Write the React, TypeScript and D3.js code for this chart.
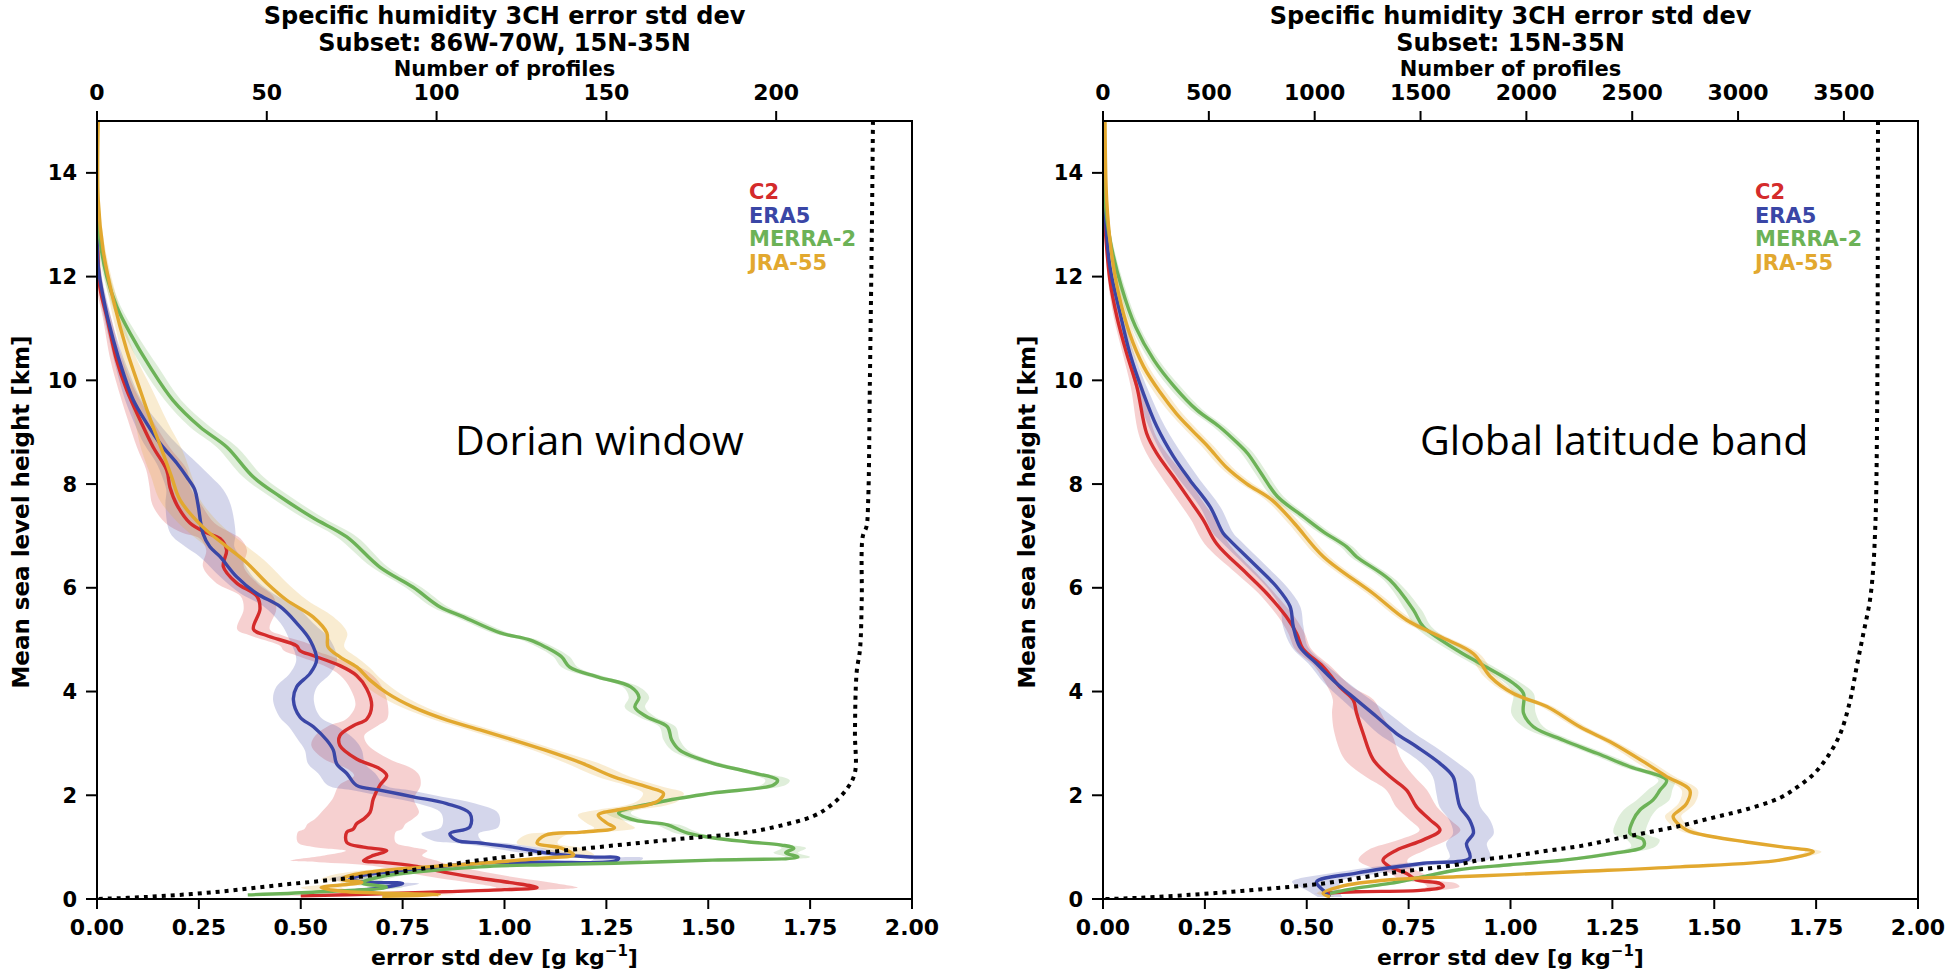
import React from 'react';
import * as d3 from 'd3';

type P = [number, number, number]; // [error std dev, height km, band half-width]
type C = [number, number]; // [number of profiles, height km]

const SERIES_NAMES = ['C2', 'ERA5', 'MERRA-2', 'JRA-55'];
const SERIES_COLORS = ['#d42b2b', '#3a46a6', '#6cb257', '#e2a82f'];

const X_TICKS = [0, 0.25, 0.5, 0.75, 1.0, 1.25, 1.5, 1.75, 2.0];
const Y_TICKS = [0, 2, 4, 6, 8, 10, 12, 14];
const LEFT_COUNT_TICKS = [0, 50, 100, 150, 200];
const RIGHT_COUNT_TICKS = [0, 500, 1000, 1500, 2000, 2500, 3000, 3500];

const TITLE = 'Specific humidity 3CH error std dev';
const LEFT_SUBSET = 'Subset: 86W-70W, 15N-35N';
const RIGHT_SUBSET = 'Subset: 15N-35N';
const LEFT_NOTE = 'Dorian window';
const RIGHT_NOTE = 'Global latitude band';

const LEFT_C2: P[] = [
  [0, 15, 0], [0, 13.5, 0.003], [0.002, 12.5, 0.005], [0.007, 11.8, 0.008], [0.024, 11.22, 0.01],
  [0.048, 10.39, 0.015], [0.073, 9.81, 0.02], [0.106, 9.23, 0.03], [0.138, 8.71, 0.04], [0.171, 8.27, 0.05],
  [0.179, 7.94, 0.05], [0.196, 7.6, 0.06], [0.228, 7.25, 0.06], [0.269, 7.06, 0.06], [0.302, 6.95, 0.05],
  [0.318, 6.73, 0.05], [0.31, 6.41, 0.05], [0.343, 6.09, 0.05], [0.392, 5.84, 0.04], [0.4, 5.59, 0.04],
  [0.384, 5.2, 0.04], [0.416, 5.08, 0.04], [0.49, 4.88, 0.04], [0.498, 4.79, 0.04], [0.531, 4.69, 0.04],
  [0.596, 4.5, 0.04], [0.637, 4.31, 0.04], [0.662, 4.05, 0.04], [0.674, 3.73, 0.04], [0.662, 3.47, 0.05],
  [0.629, 3.34, 0.06], [0.596, 3.15, 0.06], [0.596, 2.96, 0.07], [0.637, 2.7, 0.08], [0.694, 2.51, 0.08],
  [0.711, 2.38, 0.08], [0.694, 2.19, 0.1], [0.678, 1.93, 0.1], [0.67, 1.67, 0.12], [0.654, 1.54, 0.12],
  [0.637, 1.45, 0.12], [0.629, 1.35, 0.12], [0.613, 1.29, 0.12], [0.613, 1.09, 0.12], [0.654, 1.0, 0.12],
  [0.711, 0.93, 0.1], [0.678, 0.84, 0.12], [0.654, 0.74, 0.18], [0.694, 0.71, 0.15], [0.776, 0.64, 0.1],
  [0.858, 0.51, 0.1], [0.94, 0.4, 0.1], [1.02, 0.31, 0.1], [1.08, 0.22, 0.1], [1.0, 0.18, 0.1],
  [0.85, 0.14, 0.08], [0.7, 0.1, 0.08], [0.5, 0.06, 0.05],
];

const LEFT_ERA5: P[] = [
  [0, 15, 0], [0, 13.15, 0.003], [0.003, 12.19, 0.005], [0.02, 11.42, 0.008], [0.04, 10.78, 0.01],
  [0.065, 10.13, 0.015], [0.089, 9.62, 0.02], [0.122, 9.17, 0.03], [0.155, 8.78, 0.04], [0.196, 8.4, 0.05],
  [0.22, 8.14, 0.06], [0.24, 7.89, 0.07], [0.248, 7.6, 0.08], [0.26, 7.05, 0.08], [0.277, 6.79, 0.06],
  [0.302, 6.6, 0.05], [0.343, 6.21, 0.04], [0.392, 5.89, 0.04], [0.449, 5.64, 0.04], [0.49, 5.32, 0.04],
  [0.523, 4.99, 0.05], [0.539, 4.61, 0.05], [0.523, 4.35, 0.05], [0.49, 4.09, 0.05], [0.482, 3.84, 0.05],
  [0.498, 3.51, 0.05], [0.531, 3.32, 0.06], [0.564, 3.06, 0.07], [0.58, 2.87, 0.07], [0.588, 2.61, 0.07],
  [0.613, 2.42, 0.07], [0.637, 2.19, 0.07], [0.694, 2.1, 0.07], [0.776, 1.97, 0.07], [0.858, 1.84, 0.07],
  [0.915, 1.65, 0.07], [0.915, 1.39, 0.07], [0.866, 1.26, 0.07], [0.883, 1.13, 0.06], [0.94, 1.08, 0.06],
  [1.02, 1.0, 0.06], [1.1, 0.89, 0.06], [1.21, 0.81, 0.06], [1.28, 0.79, 0.06], [1.27, 0.73, 0.06],
  [1.1, 0.71, 0.05], [0.94, 0.69, 0.05], [0.75, 0.55, 0.05], [0.65, 0.45, 0.05], [0.62, 0.38, 0.05],
  [0.65, 0.33, 0.04], [0.75, 0.3, 0.04], [0.7, 0.22, 0.04], [0.62, 0.15, 0.04],
];

const LEFT_MERRA2: P[] = [
  [0, 15, 0], [0, 13.48, 0.003], [0.007, 12.72, 0.005], [0.024, 12.0, 0.008], [0.048, 11.43, 0.01],
  [0.081, 10.91, 0.015], [0.13, 10.26, 0.02], [0.186, 9.62, 0.02], [0.253, 9.1, 0.025], [0.319, 8.71, 0.025],
  [0.383, 8.14, 0.025], [0.449, 7.76, 0.025], [0.53, 7.35, 0.025], [0.613, 6.98, 0.025], [0.694, 6.4, 0.02],
  [0.776, 6.01, 0.02], [0.842, 5.63, 0.02], [0.899, 5.44, 0.02], [0.99, 5.13, 0.02], [1.06, 5.0, 0.02],
  [1.1, 4.86, 0.02], [1.14, 4.67, 0.02], [1.16, 4.47, 0.02], [1.23, 4.28, 0.02], [1.31, 4.09, 0.02],
  [1.33, 3.89, 0.025], [1.32, 3.7, 0.025], [1.35, 3.51, 0.02], [1.4, 3.32, 0.02], [1.41, 3.07, 0.02],
  [1.43, 2.87, 0.02], [1.51, 2.62, 0.02], [1.6, 2.45, 0.02], [1.67, 2.29, 0.03], [1.66, 2.2, 0.03],
  [1.51, 2.04, 0.02], [1.38, 1.87, 0.02], [1.28, 1.66, 0.03], [1.32, 1.52, 0.03], [1.4, 1.43, 0.03],
  [1.43, 1.33, 0.03], [1.45, 1.27, 0.03], [1.51, 1.18, 0.02], [1.6, 1.1, 0.02], [1.68, 1.04, 0.02],
  [1.71, 0.98, 0.03], [1.69, 0.89, 0.03], [1.72, 0.81, 0.03], [1.51, 0.75, 0.03], [1.27, 0.69, 0.03],
  [1.1, 0.66, 0.03], [0.94, 0.62, 0.03], [0.69, 0.42, 0.04], [0.65, 0.31, 0.04], [0.71, 0.23, 0.04],
  [0.53, 0.13, 0.03], [0.37, 0.08, 0.02],
];

const LEFT_JRA55: P[] = [
  [0.003, 15, 0], [0.003, 13.48, 0.003], [0.015, 12.51, 0.006], [0.04, 11.55, 0.01], [0.073, 10.58, 0.015],
  [0.106, 9.81, 0.03], [0.134, 9.18, 0.04], [0.159, 8.66, 0.05], [0.183, 8.14, 0.05], [0.204, 7.69, 0.05],
  [0.26, 7.17, 0.05], [0.319, 6.79, 0.05], [0.368, 6.48, 0.05], [0.417, 6.09, 0.05], [0.466, 5.76, 0.05],
  [0.53, 5.44, 0.05], [0.564, 5.13, 0.05], [0.567, 4.86, 0.04], [0.596, 4.67, 0.04], [0.638, 4.47, 0.03],
  [0.67, 4.22, 0.03], [0.712, 3.97, 0.03], [0.776, 3.7, 0.03], [0.859, 3.45, 0.03], [0.94, 3.26, 0.03],
  [1.02, 3.07, 0.03], [1.1, 2.87, 0.03], [1.19, 2.62, 0.04], [1.27, 2.35, 0.04], [1.35, 2.16, 0.04],
  [1.39, 2.04, 0.05], [1.38, 1.91, 0.05], [1.35, 1.81, 0.05], [1.28, 1.72, 0.05], [1.23, 1.62, 0.05],
  [1.25, 1.47, 0.05], [1.27, 1.37, 0.05], [1.19, 1.29, 0.05], [1.1, 1.23, 0.05], [1.08, 1.08, 0.05],
  [1.14, 0.98, 0.05], [1.17, 0.85, 0.05], [1.1, 0.79, 0.05], [0.94, 0.69, 0.05], [0.7, 0.55, 0.05],
  [0.62, 0.45, 0.05], [0.6, 0.38, 0.05], [0.65, 0.32, 0.05], [0.55, 0.22, 0.05], [0.6, 0.15, 0.05],
  [0.84, 0.08, 0.04], [0.7, 0.05, 0.03],
];

const LEFT_COUNTS: C[] = [
  [228.5, 15], [228.2, 13], [227.6, 10], [227.1, 7.69], [226.6, 7.18], [225.5, 6.99], [225.2, 5.78],
  [224.7, 4.82], [223.7, 4.37], [223.2, 3.21], [223.2, 2.44], [220.8, 2.12], [215.8, 1.79], [211, 1.6],
  [201, 1.41], [191, 1.28], [171.7, 1.16], [152, 1.03], [132.4, 0.9], [112.8, 0.75], [93, 0.56],
  [73.6, 0.4], [53.9, 0.27], [34.2, 0.13], [14.7, 0.04], [0, 0],
];

const RIGHT_C2: P[] = [
  [0, 15, 0], [0, 13.5, 0.002], [0.005, 12.96, 0.003], [0.017, 11.93, 0.005], [0.034, 11.23, 0.008],
  [0.058, 10.52, 0.01], [0.083, 9.88, 0.015], [0.107, 8.98, 0.02], [0.132, 8.59, 0.025], [0.173, 8.14, 0.03],
  [0.213, 7.69, 0.03], [0.246, 7.31, 0.03], [0.279, 6.85, 0.03], [0.352, 6.28, 0.025], [0.401, 5.9, 0.02],
  [0.45, 5.44, 0.02], [0.475, 5.12, 0.02], [0.491, 4.82, 0.02], [0.54, 4.48, 0.02], [0.581, 4.09, 0.03],
  [0.614, 3.84, 0.05], [0.622, 3.59, 0.06], [0.638, 3.2, 0.07], [0.663, 2.69, 0.07], [0.704, 2.36, 0.06],
  [0.745, 2.1, 0.05], [0.769, 1.78, 0.05], [0.802, 1.53, 0.05], [0.827, 1.33, 0.05], [0.786, 1.14, 0.06],
  [0.72, 0.94, 0.07], [0.687, 0.75, 0.06], [0.704, 0.62, 0.05], [0.745, 0.49, 0.04], [0.769, 0.37, 0.04],
  [0.827, 0.3, 0.04], [0.835, 0.24, 0.04], [0.786, 0.17, 0.04], [0.622, 0.14, 0.03], [0.54, 0.11, 0.03],
];

const RIGHT_ERA5: P[] = [
  [0, 15, 0], [0, 13.8, 0.002], [0.005, 13.22, 0.003], [0.017, 12.19, 0.005], [0.042, 11.29, 0.008],
  [0.066, 10.52, 0.01], [0.099, 9.75, 0.015], [0.132, 9.11, 0.02], [0.173, 8.53, 0.025], [0.213, 8.08, 0.025],
  [0.263, 7.56, 0.025], [0.295, 7.05, 0.025], [0.312, 6.91, 0.025], [0.377, 6.41, 0.025], [0.426, 6.02, 0.025],
  [0.459, 5.64, 0.025], [0.467, 5.25, 0.025], [0.483, 4.86, 0.02], [0.524, 4.54, 0.02], [0.573, 4.16, 0.03],
  [0.622, 3.84, 0.035], [0.671, 3.52, 0.04], [0.72, 3.19, 0.045], [0.769, 2.94, 0.045], [0.826, 2.62, 0.045],
  [0.859, 2.36, 0.05], [0.868, 2.04, 0.05], [0.876, 1.78, 0.05], [0.9, 1.52, 0.05], [0.909, 1.27, 0.05],
  [0.892, 1.07, 0.05], [0.9, 0.79, 0.05], [0.786, 0.69, 0.05], [0.622, 0.5, 0.06], [0.524, 0.33, 0.06],
  [0.54, 0.17, 0.04], [0.557, 0.04, 0.03],
];

const RIGHT_MERRA2: P[] = [
  [0, 15, 0], [0.005, 13.48, 0.003], [0.017, 12.72, 0.005], [0.045, 11.81, 0.008], [0.08, 11.03, 0.01],
  [0.125, 10.39, 0.012], [0.175, 9.88, 0.015], [0.23, 9.43, 0.015], [0.285, 9.11, 0.015], [0.33, 8.79, 0.015],
  [0.355, 8.59, 0.015], [0.388, 8.21, 0.015], [0.428, 7.76, 0.015], [0.492, 7.37, 0.015], [0.541, 7.08, 0.015],
  [0.598, 6.79, 0.015], [0.622, 6.6, 0.015], [0.704, 6.15, 0.015], [0.762, 5.57, 0.02], [0.786, 5.25, 0.02],
  [0.868, 4.8, 0.02], [0.925, 4.54, 0.02], [1.007, 4.16, 0.02], [1.032, 3.96, 0.025], [1.032, 3.58, 0.03],
  [1.056, 3.32, 0.025], [1.13, 3.06, 0.02], [1.212, 2.81, 0.02], [1.293, 2.55, 0.02], [1.383, 2.29, 0.02],
  [1.367, 2.1, 0.03], [1.35, 1.91, 0.04], [1.318, 1.72, 0.04], [1.301, 1.52, 0.04], [1.293, 1.27, 0.04],
  [1.326, 1.14, 0.04], [1.326, 1.01, 0.03], [1.252, 0.88, 0.03], [1.13, 0.75, 0.02], [0.999, 0.66, 0.02],
  [0.868, 0.56, 0.02], [0.786, 0.43, 0.02], [0.704, 0.3, 0.02], [0.622, 0.21, 0.02], [0.557, 0.11, 0.02],
];

const RIGHT_JRA55: P[] = [
  [0.005, 15, 0], [0.009, 13.48, 0.003], [0.02, 12.51, 0.005], [0.038, 11.68, 0.008], [0.065, 10.91, 0.01],
  [0.1, 10.26, 0.012], [0.142, 9.75, 0.015], [0.18, 9.36, 0.015], [0.218, 9.04, 0.015], [0.258, 8.72, 0.015],
  [0.302, 8.33, 0.015], [0.352, 8.01, 0.015], [0.415, 7.69, 0.015], [0.47, 7.24, 0.015], [0.541, 6.6, 0.015],
  [0.663, 5.89, 0.015], [0.745, 5.38, 0.015], [0.827, 5.06, 0.015], [0.909, 4.73, 0.015], [0.95, 4.29, 0.015],
  [1.007, 3.96, 0.015], [1.089, 3.71, 0.015], [1.17, 3.32, 0.015], [1.252, 3.0, 0.015], [1.334, 2.61, 0.02],
  [1.383, 2.36, 0.02], [1.44, 2.1, 0.02], [1.432, 1.84, 0.02], [1.416, 1.72, 0.02], [1.399, 1.59, 0.02],
  [1.432, 1.33, 0.02], [1.497, 1.2, 0.02], [1.579, 1.1, 0.02], [1.661, 1.01, 0.02], [1.743, 0.91, 0.02],
  [1.661, 0.75, 0.02], [1.416, 0.62, 0.015], [1.17, 0.53, 0.015], [0.999, 0.47, 0.015], [0.868, 0.43, 0.015],
  [0.704, 0.37, 0.015], [0.582, 0.24, 0.015], [0.54, 0.11, 0.015], [0.557, 0.04, 0.01],
];

const RIGHT_COUNTS: C[] = [
  [3661, 15], [3658, 10], [3652, 7.69], [3647, 7.05], [3639, 6.4], [3623, 5.76], [3592, 5.12], [3560, 4.47],
  [3529, 3.82], [3482, 3.18], [3419, 2.72], [3355, 2.4], [3277, 2.15], [3198, 1.95], [3041, 1.73],
  [2883, 1.57], [2726, 1.41], [2568, 1.28], [2411, 1.15], [2253, 1.02], [2096, 0.93], [1938, 0.83],
  [1781, 0.75], [1671, 0.66], [1356, 0.5], [1041, 0.3], [726, 0.18], [411, 0.08], [96, 0.01], [0, 0],
];

const FONT = '"DejaVu Sans", sans-serif';
const TOP = 121;
const BOTTOM = 899;

interface PanelProps {
  id: string;
  x0: number;
  x1: number;
  series: P[][];
  counts: C[];
  countMax: number;
  countTicks: number[];
  subset: string;
  note: string;
  noteDx: number;
}

function Panel({ id, x0, x1, series, counts, countMax, countTicks, subset, note, noteDx }: PanelProps) {
  const x = d3.scaleLinear().domain([0, 2]).range([x0, x1]);
  const y = d3.scaleLinear().domain([0, 15]).range([BOTTOM, TOP]);
  const xc = d3.scaleLinear().domain([0, countMax]).range([x0, x1]);
  const curve = d3.curveCatmullRom.alpha(0.5);
  const line = d3.line<P>().x((d) => x(d[0])).y((d) => y(d[1])).curve(curve);
  const area = d3
    .area<P>()
    .x0((d) => x(d[0] - d[2]))
    .x1((d) => x(d[0] + d[2]))
    .y((d) => y(d[1]))
    .curve(curve);
  const countLine = d3.line<C>().x((d) => xc(d[0])).y((d) => y(d[1])).curve(curve);
  const mid = (x0 + x1) / 2;
  const fmt = d3.format('.2f');

  return (
    <g>
      <defs>
        <clipPath id={`clip-${id}`}>
          <rect x={x0} y={TOP} width={x1 - x0} height={BOTTOM - TOP} />
        </clipPath>
      </defs>
      <g clipPath={`url(#clip-${id})`}>
        {series.map((s, i) => (
          <path key={`b${i}`} d={area(s) || ''} fill={SERIES_COLORS[i]} fillOpacity={0.22} stroke="none" />
        ))}
        {series.map((s, i) => (
          <path key={`l${i}`} d={line(s) || ''} fill="none" stroke={SERIES_COLORS[i]} strokeWidth={3.4} strokeLinejoin="round" />
        ))}
        <path d={countLine(counts) || ''} fill="none" stroke="#000" strokeWidth={4} strokeDasharray="4 5" />
      </g>
      <rect x={x0} y={TOP} width={x1 - x0} height={BOTTOM - TOP} fill="none" stroke="#000" strokeWidth={2} />

      {/* bottom axis */}
      {X_TICKS.map((t) => (
        <g key={`xt${t}`}>
          <line x1={x(t)} x2={x(t)} y1={BOTTOM} y2={BOTTOM + 10} stroke="#000" strokeWidth={2} />
          <text x={x(t)} y={935} textAnchor="middle" fontFamily={FONT} fontWeight="bold" fontSize={22}>
            {fmt(t)}
          </text>
        </g>
      ))}
      <text x={mid} y={965} textAnchor="middle" fontFamily={FONT} fontWeight="bold" fontSize={22}>
        error std dev [g kg
        <tspan dy={-9} fontSize={15}>−1</tspan>
        <tspan dy={9}>]</tspan>
      </text>

      {/* left axis */}
      {Y_TICKS.map((t) => (
        <g key={`yt${t}`}>
          <line x1={x0 - 11} x2={x0} y1={y(t)} y2={y(t)} stroke="#000" strokeWidth={2} />
          <text x={x0 - 20} y={y(t) + 7.5} textAnchor="end" fontFamily={FONT} fontWeight="bold" fontSize={21}>
            {t}
          </text>
        </g>
      ))}
      <text
        transform={`translate(${x0 - 68},${512}) rotate(-90)`}
        textAnchor="middle"
        fontFamily={FONT}
        fontWeight="bold"
        fontSize={23}
      >
        Mean sea level height [km]
      </text>

      {/* top axis */}
      {countTicks.map((t) => (
        <g key={`ct${t}`}>
          <line x1={xc(t)} x2={xc(t)} y1={TOP - 10} y2={TOP} stroke="#000" strokeWidth={2} />
          <text x={xc(t)} y={100} textAnchor="middle" fontFamily={FONT} fontWeight="bold" fontSize={22}>
            {t}
          </text>
        </g>
      ))}
      <text x={mid} y={76} textAnchor="middle" fontFamily={FONT} fontWeight="bold" fontSize={21}>
        Number of profiles
      </text>
      <text x={mid} y={24} textAnchor="middle" fontFamily={FONT} fontWeight="bold" fontSize={24}>
        {TITLE}
      </text>
      <text x={mid} y={51} textAnchor="middle" fontFamily={FONT} fontWeight="bold" fontSize={24}>
        {subset}
      </text>

      {/* legend */}
      {SERIES_NAMES.map((n, i) => (
        <text key={n} x={x0 + 652} y={199 + i * 23.5} fontFamily={FONT} fontWeight="bold" fontSize={21} fill={SERIES_COLORS[i]}>
          {n}
        </text>
      ))}

      <text x={x0 + noteDx} y={455} fontFamily='"Open Sans", sans-serif' fontSize={41} fill="#000">
        {note}
      </text>
    </g>
  );
}

export default function App() {
  return (
    <svg
      width={1957}
      height={972}
      viewBox="0 0 1957 972"
      style={{ position: 'absolute', left: 0, top: 0, background: '#fff' }}
    >
      <rect x={0} y={0} width={1957} height={972} fill="#fff" />
      <Panel
        id="left"
        x0={97}
        x1={912}
        series={[LEFT_C2, LEFT_ERA5, LEFT_MERRA2, LEFT_JRA55]}
        counts={LEFT_COUNTS}
        countMax={240}
        countTicks={LEFT_COUNT_TICKS}
        subset={LEFT_SUBSET}
        note={LEFT_NOTE}
        noteDx={358}
      />
      <Panel
        id="right"
        x0={1103}
        x1={1918}
        series={[RIGHT_C2, RIGHT_ERA5, RIGHT_MERRA2, RIGHT_JRA55]}
        counts={RIGHT_COUNTS}
        countMax={3850}
        countTicks={RIGHT_COUNT_TICKS}
        subset={RIGHT_SUBSET}
        note={RIGHT_NOTE}
        noteDx={317}
      />
    </svg>
  );
}
